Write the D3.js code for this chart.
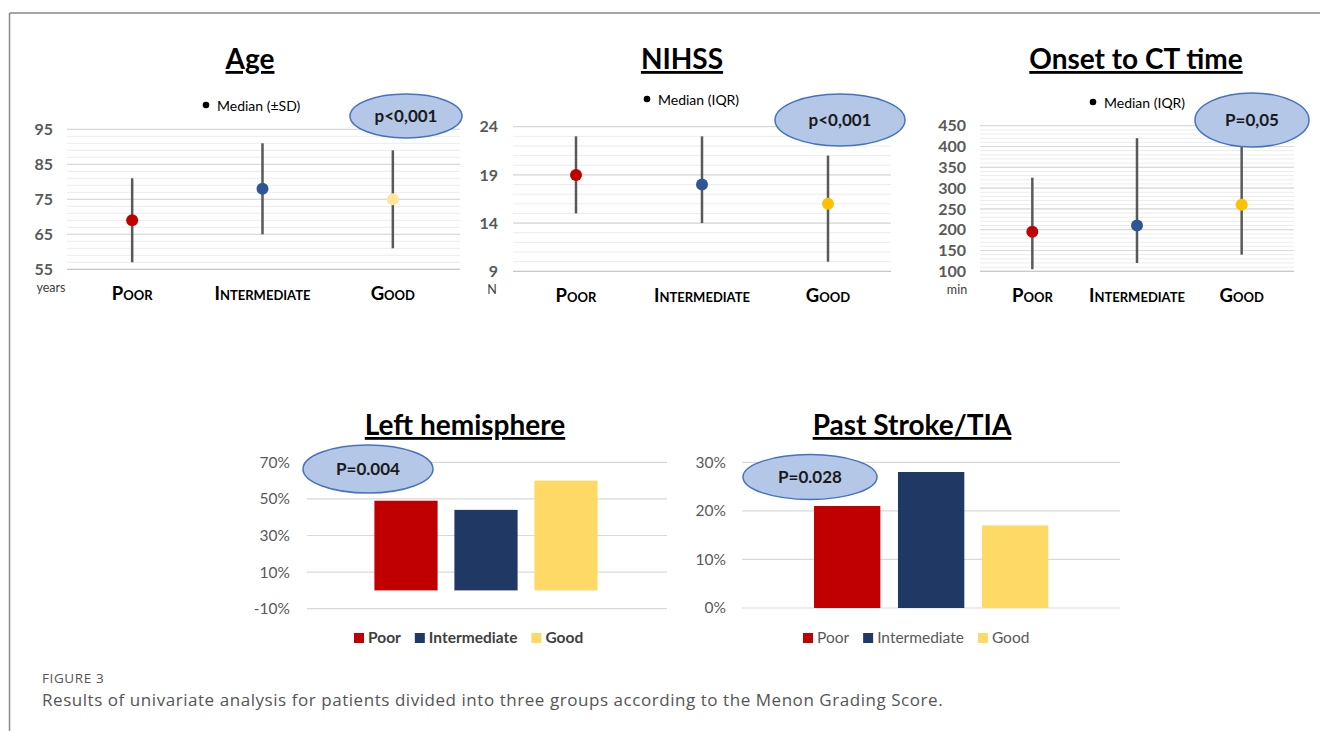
<!DOCTYPE html>
<html>
<head>
<meta charset="utf-8">
<script src="https://cdn.jsdelivr.net/npm/d3@7"></script>
<style>
  html, body { margin: 0; padding: 0; background: #fff; }
  svg { display: block; }
</style>
</head>
<body>
<svg id="chart" width="1320" height="731" font-family="Lato, 'Open Sans', sans-serif"></svg>
<script>
// ---------- data ----------
const groups = ["Poor", "Intermediate", "Good"];

const ageMedian = [69, 78, 75];
const ageLow    = [57, 65, 61];
const ageHigh   = [81, 91, 89];
const ageTicks  = [55, 65, 75, 85, 95];

const nihssMedian = [19, 18, 16];
const nihssLow    = [15, 14, 10];
const nihssHigh   = [23, 23, 21];
const nihssTicks  = [9, 14, 19, 24];

const onsetMedian = [195, 210, 260];
const onsetLow    = [105, 120, 140];
const onsetHigh   = [325, 420, 430];
const onsetTicks  = [100, 150, 200, 250, 300, 350, 400, 450];

const leftHemisphere = [49, 44, 60];
const leftTicks = [-10, 10, 30, 50, 70];

const pastStroke = [21, 28, 17];
const pastTicks = [0, 10, 20, 30];

// ---------- styles ----------
const barColors = ["#c00000", "#1f3864", "#ffd966"];
const dotColorsAge = ["#c00000", "#2f5597", "#ffe699"];
const dotColors = ["#c00000", "#2f5597", "#ffc000"];

const svg = d3.select("#chart");

// frame lines
svg.append("line").attr("x1", 9.5).attr("x2", 1320).attr("y1", 13).attr("y2", 13)
  .attr("stroke", "#8a8a8a").attr("stroke-width", 1.5);
svg.append("line").attr("x1", 9.5).attr("x2", 9.5).attr("y1", 13).attr("y2", 731)
  .attr("stroke", "#8a8a8a").attr("stroke-width", 1.5);

function title(text, cx, y) {
  svg.append("text").attr("x", cx).attr("y", y).attr("text-anchor", "middle")
    .attr("font-size", 28).attr("font-weight", 700).attr("fill", "#000")
    .style("text-decoration", "underline").text(text);
}

function pEllipse(cx, cy, rx, ry, label) {
  svg.append("ellipse").attr("cx", cx).attr("cy", cy).attr("rx", rx).attr("ry", ry)
    .attr("fill", "#b4c7e7").attr("stroke", "#4472c4").attr("stroke-width", 1.5);
  svg.append("text").attr("x", cx).attr("y", cy + 6).attr("text-anchor", "middle")
    .attr("font-size", 17).attr("font-weight", 700).attr("fill", "#1a1a1a").text(label);
}

function rangePanel(cfg) {
  const x = d3.scaleBand().domain(groups).range([cfg.x0, cfg.x1]);
  const y = d3.scaleLinear().domain(cfg.domain).range([cfg.yBottom, cfg.yTop]);
  const g = svg.append("g");
  const minor = d3.range(cfg.domain[0], cfg.domain[1] + 0.001, cfg.minorStep);
  g.selectAll(".minor").data(minor).join("line")
    .attr("x1", cfg.x0).attr("x2", cfg.gridEnd)
    .attr("y1", d => y(d)).attr("y2", d => y(d))
    .attr("stroke", "#ececec").attr("stroke-width", 1);
  g.selectAll(".major").data(cfg.ticks).join("line")
    .attr("x1", cfg.x0).attr("x2", cfg.gridEnd)
    .attr("y1", d => y(d)).attr("y2", d => y(d))
    .attr("stroke", (d, i) => i === 0 ? "#c8c8c8" : "#dadada").attr("stroke-width", 1.2);
  const ya = g.append("g").attr("transform", `translate(${cfg.labelRight},0)`)
    .call(d3.axisLeft(y).tickValues(cfg.ticks).tickSize(0).tickPadding(0));
  ya.select(".domain").remove();
  ya.selectAll("text").attr("font-size", 16).attr("font-weight", 700)
    .attr("fill", "#595959").attr("font-family", "Lato, sans-serif");
  const xa = g.append("g").attr("transform", `translate(0,${cfg.yBottom})`)
    .call(d3.axisBottom(x).tickSize(0).tickPadding(0));
  xa.select(".domain").remove();
  xa.selectAll("text").attr("dy", 0).attr("y", 31)
    .attr("font-size", 18.5).attr("font-weight", 700).attr("fill", "#000")
    .style("font-variant", "small-caps").attr("font-family", "Lato, sans-serif");
  g.append("text").attr("x", cfg.unitX).attr("y", cfg.yBottom + 23).attr("text-anchor", "middle")
    .attr("font-size", 12.5).attr("fill", "#404040").text(cfg.unit);
  g.selectAll(".wh").data(groups).join("line")
    .attr("x1", d => x(d) + x.bandwidth() / 2).attr("x2", d => x(d) + x.bandwidth() / 2)
    .attr("y1", (d, i) => y(cfg.low[i])).attr("y2", (d, i) => y(cfg.high[i]))
    .attr("stroke", "#595959").attr("stroke-width", 2.5);
  g.selectAll(".dot").data(groups).join("circle")
    .attr("cx", d => x(d) + x.bandwidth() / 2)
    .attr("cy", (d, i) => y(cfg.median[i]))
    .attr("r", 6).attr("fill", (d, i) => cfg.colors[i]);
  svg.append("circle").attr("cx", cfg.legX).attr("cy", cfg.legY - 6).attr("r", 3.3).attr("fill", "#000");
  svg.append("text").attr("x", cfg.legX + 11).attr("y", cfg.legY).attr("font-size", 14)
    .attr("fill", "#000").text(cfg.legText);
  title(cfg.title, cfg.titleX, 69);
}

const panels = [
{
  title: "Age", titleX: 250, x0: 67, x1: 458, gridEnd: 460,
  domain: [55, 95], yBottom: 269.3, yTop: 129.3, ticks: ageTicks, minorStep: 2,
  labelRight: 53, unit: "years", unitX: 51,
  median: ageMedian, low: ageLow, high: ageHigh, colors: dotColorsAge,
  ell: [406, 116, 56, 22], pLabel: "p<0,001",
  legX: 206, legY: 111, legText: "Median (±SD)"
},
{
  title: "NIHSS", titleX: 682, x0: 513, x1: 891, gridEnd: 891,
  domain: [9, 24], yBottom: 271.3, yTop: 126.7, ticks: nihssTicks, minorStep: 1,
  labelRight: 498, unit: "N", unitX: 492,
  median: nihssMedian, low: nihssLow, high: nihssHigh, colors: dotColors,
  ell: [840, 120, 65, 26], pLabel: "p<0,001",
  legX: 647, legY: 105, legText: "Median (IQR)"
},
{
  title: "Onset to CT time", titleX: 1136, x0: 980, x1: 1294, gridEnd: 1294,
  domain: [100, 450], yBottom: 271.3, yTop: 125.7, ticks: onsetTicks, minorStep: 10,
  labelRight: 966, unit: "min", unitX: 957,
  median: onsetMedian, low: onsetLow, high: onsetHigh, colors: dotColors,
  ell: [1252, 120, 57, 27], pLabel: "P=0,05",
  legX: 1093, legY: 108, legText: "Median (IQR)"
}];
panels.forEach(rangePanel);
panels.forEach(p => pEllipse(p.ell[0], p.ell[1], p.ell[2], p.ell[3], p.pLabel));

function barPanel(cfg) {
  const x = d3.scaleBand().domain(groups).range([cfg.bx0, cfg.bx1])
    .paddingInner(0.21).paddingOuter(0.105);
  const y = d3.scaleLinear().domain(cfg.domain).range([cfg.yBottom, cfg.yTop]);
  const g = svg.append("g");
  g.selectAll(".grid").data(cfg.ticks).join("line")
    .attr("x1", cfg.gx0).attr("x2", cfg.gx1)
    .attr("y1", d => y(d)).attr("y2", d => y(d))
    .attr("stroke", "#d9d9d9").attr("stroke-width", 1.2);
  const ya = g.append("g").attr("transform", `translate(${cfg.labelRight},0)`)
    .call(d3.axisLeft(y).tickValues(cfg.ticks).tickSize(0).tickPadding(0).tickFormat(d => d + "%"));
  ya.select(".domain").remove();
  ya.selectAll("text").attr("font-size", 15.5).attr("fill", "#595959").attr("font-family", "Lato, sans-serif");
  g.selectAll(".bar").data(groups).join("rect")
    .attr("x", d => x(d)).attr("width", x.bandwidth())
    .attr("y", (d, i) => y(Math.max(0, cfg.values[i])))
    .attr("height", (d, i) => Math.abs(y(cfg.values[i]) - y(0)))
    .attr("fill", (d, i) => barColors[i]);
  pEllipse(cfg.ell[0], cfg.ell[1], cfg.ell[2], cfg.ell[3], cfg.pLabel);
  title(cfg.title, cfg.titleX, 435);
  const leg = svg.append("g");
  let cx = cfg.legX;
  groups.forEach((gname, i) => {
    leg.append("rect").attr("x", cx).attr("y", 633).attr("width", 10).attr("height", 10).attr("fill", barColors[i]);
    const t = leg.append("text").attr("x", cx + 14).attr("y", 643).attr("font-size", 15.5)
      .attr("font-weight", cfg.legWeight).attr("fill", cfg.legColor).text(gname);
    cx += 14 + t.node().getComputedTextLength() + cfg.legGap;
  });
}

barPanel({
  title: "Left hemisphere", titleX: 465, domain: [-10, 70], yBottom: 608.7, yTop: 462.3,
  ticks: leftTicks, gx0: 307, gx1: 667, labelRight: 290,
  bx0: 366, bx1: 606, values: leftHemisphere,
  ell: [368, 469, 65, 24], pLabel: "P=0.004",
  legX: 354, legWeight: 700, legColor: "#404040", legGap: 14
});
barPanel({
  title: "Past Stroke/TIA", titleX: 912, domain: [0, 30], yBottom: 608, yTop: 462.3,
  ticks: pastTicks, gx0: 742, gx1: 1120, labelRight: 726,
  bx0: 805.2, bx1: 1057.1, values: pastStroke,
  ell: [810, 477, 67, 22.5], pLabel: "P=0.028",
  legX: 803, legWeight: 400, legColor: "#595959", legGap: 14
});

// caption
svg.append("text").attr("x", 42).attr("y", 683).attr("font-size", 13.5)
  .attr("letter-spacing", 0.6)
  .attr("fill", "#555").attr("font-family", "'Open Sans', sans-serif").text("FIGURE 3");
svg.append("text").attr("x", 42).attr("y", 706).attr("font-size", 17)
  .attr("letter-spacing", 0.55)
  .attr("fill", "#555").attr("font-family", "'Open Sans', sans-serif")
  .text("Results of univariate analysis for patients divided into three groups according to the Menon Grading Score.");
</script>
</body>
</html>
